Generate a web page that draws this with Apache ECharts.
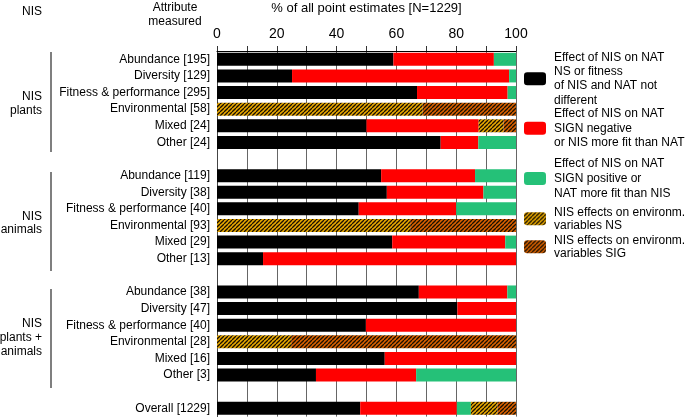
<!DOCTYPE html>
<html>
<head>
<meta charset="utf-8">
<script src="https://cdn.jsdelivr.net/npm/echarts@6/dist/echarts.min.js"></script>
<style>html,body{margin:0;padding:0;background:#fff}#c{width:685px;height:419px}</style>
</head>
<body>
<div id="c"></div>
<script>
const categories = [
  'Abundance [195]','Diversity [129]','Fitness & performance [295]','Environmental [58]','Mixed [24]','Other [24]',' ',
  'Abundance [119]','Diversity [38]','Fitness & performance [40]','Environmental [93]','Mixed [29]','Other [13]','  ',
  'Abundance [38]','Diversity [47]','Fitness & performance [40]','Environmental [28]','Mixed [16]','Other [3]','   ',
  'Overall [1229]'
];
const nsValues     = [59.0, 25.1, 66.9, null, 50.0, 74.8, null, 54.9, 56.8, 47.4, null, 58.6, 15.4, null, 67.5, 80.4, 49.8, null, 56.1, 33.1, null, 47.9];
const negValues    = [33.6, 72.6, 30.3, null, 37.5, 12.6, null, 31.4, 32.3, 32.6, null, 37.8, 84.6, null, 29.6, 19.6, 50.2, null, 43.9, 33.5, null, 32.3];
const posValues    = [7.4, 2.3, 2.8, null, null, 12.6, null, 13.7, 10.9, 20.0, null, 3.6, null, null, 2.9, null, null, null, null, 33.4, null, 4.7];
const envNsValues  = [null, null, null, 68.8, 8.3, null, null, null, null, null, 64.6, null, null, null, null, null, null, 24.8, null, null, null, 8.9];
const envSigValues = [null, null, null, 31.2, 4.2, null, null, null, null, null, 35.4, null, null, null, null, null, null, 75.2, null, null, null, 6.2];
const tickValues = [0, 20, 40, 60, 80, 100];
const seriesNames = [
  'Effect of NIS on NAT\nNS or fitness\nof NIS and NAT not\ndifferent',
  'Effect of NIS on NAT\nSIGN negative\nor NIS more fit than NAT',
  'Effect of NIS on NAT\nSIGN positive or\nNAT more fit than NIS',
  'NIS effects on environm.\nvariables NS',
  'NIS effects on environm.\nvariables SIG'
];

function hatch(bg) {
  const s = 4;
  const cv = document.createElement('canvas');
  cv.width = s; cv.height = s;
  const g = cv.getContext('2d');
  g.fillStyle = bg; g.fillRect(0, 0, s, s);
  g.strokeStyle = '#1a1000'; g.lineWidth = 1.3;
  for (let k = -1; k <= 1; k++) {
    g.beginPath();
    g.moveTo(k * s, s); g.lineTo(k * s + s, 0);
    g.stroke();
  }
  return { image: cv, repeat: 'repeat' };
}

const FONT = "'Liberation Sans', Arial, sans-serif";
const chart = echarts.init(document.getElementById('c'), null, { renderer: 'canvas' });
const colors = ['#000000', '#ff0000', '#25c178', hatch('#eaaa00'), hatch('#dc6200')];
const valueSets = [nsValues, negValues, posValues, envNsValues, envSigValues];

const legendTops = [50, 106, 156, 206, 234];
const legendLH = [14.4, 14.8, 15, 12.8, 12.8];
const legends = seriesNames.map((n, i) => ({
  data: [n], orient: 'vertical', left: 524, top: legendTops[i], padding: 0,
  itemWidth: 22, itemHeight: 13, selectedMode: false,
  textStyle: { fontFamily: FONT, fontSize: 12, color: '#000', lineHeight: legendLH[i], padding: [0, 0, 0, 3] }
}));

chart.setOption({
  animation: false,
  textStyle: { fontFamily: FONT },
  legend: legends,
  grid: { left: 217, right: 169, top: 51, bottom: 2.4, containLabel: false, outerBoundsMode: 'none' },
  xAxis: {
    type: 'value', position: 'top', min: 0, max: 100, interval: 10,
    name: '% of all point estimates [N=1229]', nameLocation: 'middle', nameGap: 36,
    nameTextStyle: { fontSize: 13, color: '#000', fontFamily: FONT },
    axisLine: { show: true, lineStyle: { color: '#000', width: 1 } },
    axisTick: { show: true, length: 5, lineStyle: { color: '#333' } },
    axisLabel: { fontSize: 14, color: '#000', margin: 10, fontFamily: FONT,
      formatter: v => tickValues.includes(v) ? String(v) : '' },
    splitLine: { show: true, lineStyle: { color: '#666', width: 1 } }
  },
  yAxis: {
    type: 'category', inverse: true, data: categories,
    axisLine: { show: true, lineStyle: { color: '#444' } },
    axisTick: { show: false },
    axisLabel: { fontSize: 12, color: '#000', margin: 7, fontFamily: FONT }
  },
  series: seriesNames.map((n, i) => ({
    name: n, type: 'bar', stack: 'all', barWidth: 13,
    itemStyle: { color: colors[i] },
    data: valueSets[i]
  })),
  graphic: [
    { type: 'text', left: 22, top: 6, style: { text: 'NIS', font: '12px ' + FONT, fill: '#000' } },
    { type: 'text', style: { text: 'Attribute\nmeasured', x: 175, y: 1, textAlign: 'center', font: '12px ' + FONT, fill: '#000', lineHeight: 13.5 } },
    { type: 'text', style: { text: 'NIS\nplants', x: 42, y: 103.5, textAlign: 'right', textVerticalAlign: 'middle', font: '12px ' + FONT, fill: '#000', lineHeight: 13.5 } },
    { type: 'text', style: { text: 'NIS\nanimals', x: 42, y: 223, textAlign: 'right', textVerticalAlign: 'middle', font: '12px ' + FONT, fill: '#000', lineHeight: 13.5 } },
    { type: 'text', style: { text: 'NIS\nplants +\nanimals', x: 42, y: 338, textAlign: 'right', textVerticalAlign: 'middle', font: '12px ' + FONT, fill: '#000', lineHeight: 14 } },
    { type: 'line', shape: { x1: 51, y1: 52, x2: 51, y2: 152 }, style: { stroke: '#555', lineWidth: 1.5 } },
    { type: 'line', shape: { x1: 51, y1: 172, x2: 51, y2: 271 }, style: { stroke: '#555', lineWidth: 1.5 } },
    { type: 'line', shape: { x1: 51, y1: 289, x2: 51, y2: 388 }, style: { stroke: '#555', lineWidth: 1.5 } }
  ]
});
</script>
</body>
</html>
